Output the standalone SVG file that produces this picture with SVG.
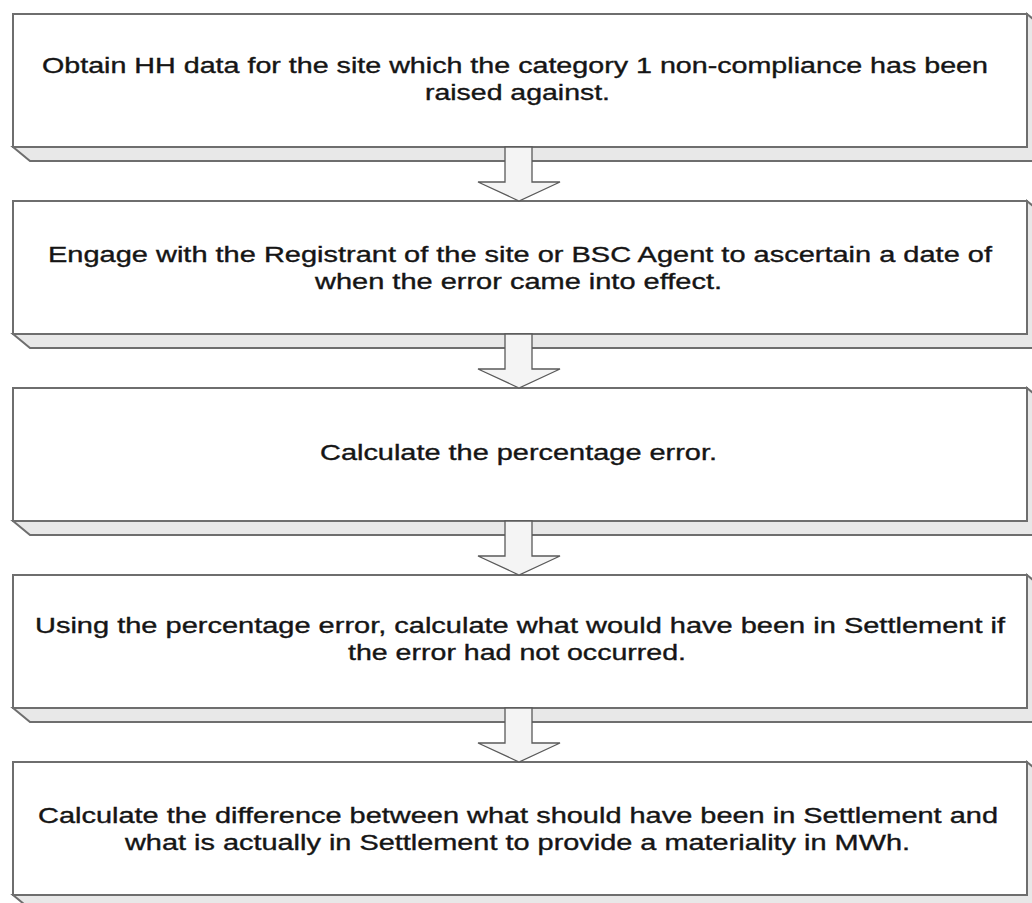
<svg xmlns="http://www.w3.org/2000/svg" width="1032" height="903" viewBox="0 0 1032 903">
<style>
.face{fill:#ffffff;stroke:#6e6e6e;stroke-width:2}
.bevel{fill:#e8e8e8;stroke:#6e6e6e;stroke-width:2;stroke-linejoin:miter}
.arrow{fill:#f4f4f4;stroke:#5a5a5a;stroke-width:1.3;stroke-linejoin:miter}
.t{font-family:"Liberation Sans",Arial,sans-serif;font-size:21.5px;fill:#151515;stroke:#151515;stroke-width:0.35}
</style>
<rect width="1032" height="903" fill="#ffffff"/>
<g id="node1">
<polygon class="bevel" points="13,147 30,161 1044,161 1044,28 1027,14 1027,147"/>
<rect class="face" x="13" y="14" width="1014" height="133"/>
<text class="t" x="42" y="73" textLength="946" lengthAdjust="spacingAndGlyphs">Obtain HH data for the site which the category 1 non-compliance has been</text>
<text class="t" x="425" y="100" textLength="185" lengthAdjust="spacingAndGlyphs">raised against.</text>
</g>
<g id="node2">
<polygon class="bevel" points="13,334 30,348 1044,348 1044,215 1027,201 1027,334"/>
<rect class="face" x="13" y="201" width="1014" height="133"/>
<text class="t" x="48" y="262" textLength="944" lengthAdjust="spacingAndGlyphs">Engage with the Registrant of the site or BSC Agent to ascertain a date of</text>
<text class="t" x="315" y="289" textLength="407" lengthAdjust="spacingAndGlyphs">when the error came into effect.</text>
</g>
<g id="node3">
<polygon class="bevel" points="13,521 30,535 1044,535 1044,402 1027,388 1027,521"/>
<rect class="face" x="13" y="388" width="1014" height="133"/>
<text class="t" x="320" y="460" textLength="397" lengthAdjust="spacingAndGlyphs">Calculate the percentage error.</text>
</g>
<g id="node4">
<polygon class="bevel" points="13,708 30,722 1044,722 1044,589 1027,575 1027,708"/>
<rect class="face" x="13" y="575" width="1014" height="133"/>
<text class="t" x="35" y="633" textLength="970" lengthAdjust="spacingAndGlyphs">Using the percentage error, calculate what would have been in Settlement if</text>
<text class="t" x="348" y="660" textLength="338" lengthAdjust="spacingAndGlyphs">the error had not occurred.</text>
</g>
<g id="node5">
<polygon class="bevel" points="13,895 30,909 1044,909 1044,776 1027,762 1027,895"/>
<rect class="face" x="13" y="762" width="1014" height="133"/>
<text class="t" x="38" y="823" textLength="960" lengthAdjust="spacingAndGlyphs">Calculate the difference between what should have been in Settlement and</text>
<text class="t" x="125" y="850" textLength="785" lengthAdjust="spacingAndGlyphs">what is actually in Settlement to provide a materiality in MWh.</text>
</g>
<g id="connectors">
<polygon class="arrow" points="505,147 532,147 532,182 560,182 519,201 478,182 505,182"/>
<polygon class="arrow" points="505,334 532,334 532,369 560,369 519,388 478,369 505,369"/>
<polygon class="arrow" points="505,521 532,521 532,556 560,556 519,575 478,556 505,556"/>
<polygon class="arrow" points="505,708 532,708 532,743 560,743 519,762 478,743 505,743"/>
</g>
</svg>
